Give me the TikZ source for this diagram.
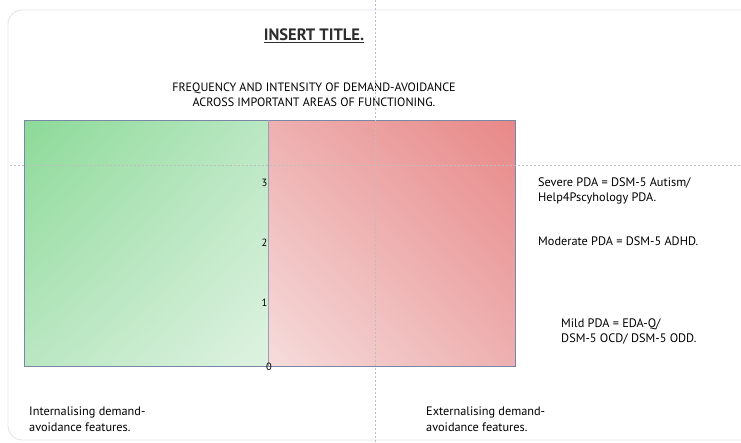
\documentclass[tikz,border=0pt]{standalone}
\usepackage{fontspec}
\setmainfont{PT Sans}
\usetikzlibrary{shadings}
\definecolor{cardgray}{RGB}{222,227,234}
\definecolor{guidegray}{RGB}{190,190,190}
\definecolor{framesteel}{RGB}{120,134,168}
\definecolor{midsteel}{RGB}{150,160,185}
\definecolor{titlegray}{RGB}{45,45,45}
\definecolor{greenstrong}{RGB}{140,218,152}
\definecolor{greenmid}{RGB}{186,231,194}
\definecolor{greenpale}{RGB}{222,242,225}
\definecolor{redstrong}{RGB}{232,136,136}
\definecolor{redmid}{RGB}{238,176,176}
\definecolor{redpale}{RGB}{246,220,220}

\begin{document}
\begin{tikzpicture}[x=1pt,y=-1pt,
        panel/.style={draw=framesteel, line width=0.8pt, inner sep=0pt,
                minimum width=244pt, minimum height=246pt, anchor=north west},
        guide/.style={draw=guidegray, line width=0.5pt, dash pattern=on 2pt off 2pt},
        note/.style={font=\fontsize{12.3}{15.5}\selectfont, align=left,
                inner sep=0pt, anchor=north west},
        tick/.style={font=\fontsize{10.5}{12}\selectfont, inner sep=0.5pt}]
\useasboundingbox (0,0) rectangle (741,443);

% card behind everything
\begin{scope}
        \clip (0,0) rectangle (741,443);
        \draw[cardgray, line width=0.8pt, rounded corners=14pt] (8,10) rectangle (800,440);
\end{scope}

% headings
\node (title) [font=\fontsize{16.5}{18}\selectfont\bfseries, text=titlegray] at (314,36)
        {\underline{INSERT TITLE.}};
\node (subtitle) [font=\fontsize{12.1}{14.5}\selectfont, align=center] at (314,95)
        {FREQUENCY AND INTENSITY OF DEMAND-AVOIDANCE\\
         ACROSS IMPORTANT AREAS OF FUNCTIONING.};

% the two shaded halves
\node (inner) [panel, shade,
        upper left=greenstrong, upper right=greenmid,
        lower left=greenmid, lower right=greenpale] at (24,120) {};
\node (outer) [panel, shade, minimum width=247pt,
        upper left=redmid, upper right=redstrong,
        lower left=redpale, lower right=redmid] at (268,120) {};
\draw[midsteel, line width=1.2pt] (inner.north east) -- (inner.south east);

% scale along the middle line
\foreach \v/\yy in {1/303,2/243,3/183}
        \node (tick\v) [tick, anchor=east] at (268,\yy) {\v};
\node (tick0) [tick] at (269,367) {0};

% guides
\coordinate (vtop) at (375,0);
\coordinate (vbot) at (375,443);
\coordinate (hleft) at (10,165);
\coordinate (hright) at (741,165);
\draw[guide] (vtop) -- (vbot);
\draw[guide] (hleft) -- (hright);

% levels
\node (severe) [note] at (538,177.5) {Severe PDA = DSM-5 Autism/\\Help4Pscyhology PDA.};
\node (moderate) [note] at (538,236.5) {Moderate PDA = DSM-5 ADHD.};
\node (mild) [note] at (561,318.5) {Mild PDA = EDA-Q/\\DSM-5 OCD/ DSM-5 ODD.};

% features
\node (internal) [note] at (29,407) {Internalising demand-\\avoidance features.};
\node (external) [note] at (426,407) {Externalising demand-\\avoidance features.};
\end{tikzpicture}
\end{document}
